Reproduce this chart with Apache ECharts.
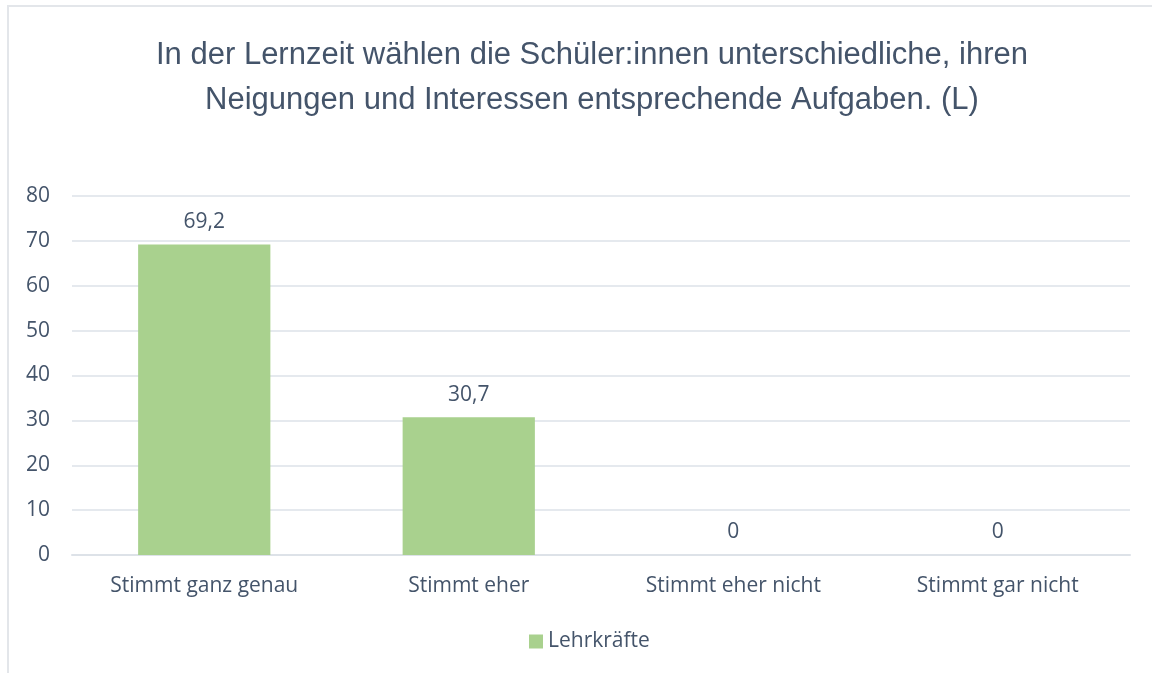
<!DOCTYPE html>
<html>
<head>
<meta charset="utf-8">
<script src="https://cdn.jsdelivr.net/npm/echarts@6/dist/echarts.min.js"></script>
<style>
html,body{margin:0;padding:0;background:#fff;}
#box{position:absolute;left:7px;top:5px;width:1150px;height:670px;border:2px solid #E3E6EA;box-sizing:border-box;}
#chart{position:absolute;left:0;top:0;width:1152px;height:673px;}
</style>
</head>
<body>
<div id="box"></div>
<div id="chart"></div>
<script>
var kategorien=['Stimmt ganz genau','Stimmt eher','Stimmt eher nicht','Stimmt gar nicht'];
var lehrkraefte=[69.2,30.7,0,0];
var titel='In der Lernzeit wählen die Schüler:innen unterschiedliche, ihren\nNeigungen und Interessen entsprechende Aufgaben. (L)';
var schrift='Open Sans';

var chart=echarts.init(document.getElementById('chart'));
chart.setOption({
  animation:false,
  title:{
    text:titel,
    left:587,
    textAlign:'center',
    top:28,
    textStyle:{
      fontFamily:'Liberation Sans',
      fontWeight:'normal',
      fontSize:31,
      lineHeight:45,
      color:'#44546A'
    }
  },
  legend:{
    top:626,
    left:524,
    itemWidth:14,
    itemHeight:14,
    icon:'rect',
    itemGap:6,
    textStyle:{fontFamily:schrift,fontSize:21,color:'#44546A'},
    data:['Lehrkräfte']
  },
  grid:{left:72,right:22,top:196,bottom:118},
  xAxis:{
    type:'category',
    data:kategorien,
    axisLine:{lineStyle:{color:'#DDE2E8',width:2}},
    axisTick:{show:false},
    axisLabel:{fontFamily:schrift,fontSize:21,color:'#44546A',margin:21}
  },
  yAxis:{
    type:'value',
    min:0,max:80,interval:10,
    axisLine:{show:false},
    axisTick:{show:false},
    splitLine:{lineStyle:{color:'#DDE2E8',width:1.5}},
    axisLabel:{fontFamily:schrift,fontSize:21,color:'#44546A',margin:22}
  },
  series:[{
    name:'Lehrkräfte',
    type:'bar',
    data:lehrkraefte,
    barWidth:'50%',
    itemStyle:{color:'#A9D18E'},
    label:{
      show:true,
      position:'top',
      distance:12,
      fontFamily:schrift,
      fontSize:21,
      color:'#44546A',
      formatter:function(p){return String(p.value).replace('.',',');}
    }
  }]
});
</script>
</body>
</html>
